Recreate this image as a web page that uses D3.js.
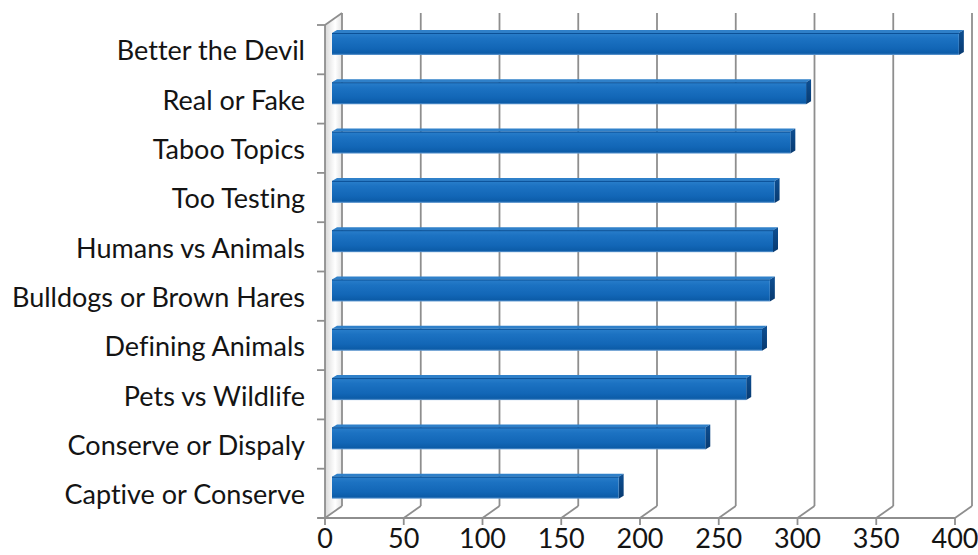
<!DOCTYPE html>
<html><head><meta charset="utf-8">
<script src="https://cdn.jsdelivr.net/npm/d3@7"></script>
<style>html,body{margin:0;padding:0;background:#fff;}svg{display:block;}text{font-variant-ligatures:none;font-feature-settings:"liga" 0,"clig" 0;}</style>
</head><body>
<script>
const categories = ["Better the Devil","Real or Fake","Taboo Topics","Too Testing","Humans vs Animals","Bulldogs or Brown Hares","Defining Animals","Pets vs Wildlife","Conserve or Dispaly","Captive or Conserve"];
const values = [398, 301, 291, 281, 280, 278, 273, 263, 237, 182];
const xTicks = [0, 50, 100, 150, 200, 250, 300, 350, 400];

const W = 978, H = 555;
const svg = d3.select("body").append("svg").attr("width", W).attr("height", H);
const defs = svg.append("defs");

const x = d3.scaleLinear().domain([0, 400]).range([325, 955]);
const y = d3.scaleBand().domain(categories).range([25, 518]).padding(0);
const DX = 17, DY = -12;          // depth offset of back wall
const bDX = 7;                    // bar front offset
const floorY = 518;
const topY = 25;
const gridColor = "#8e8e8e";

// gradients
const bg = defs.append("linearGradient").attr("id","barGrad").attr("x1",0).attr("y1",0).attr("x2",0).attr("y2",1);
[[0,"#2a7fcb"],[0.25,"#1c72c2"],[0.7,"#1266b6"],[0.92,"#0c5ca8"],[1,"#6a9fd4"]].forEach(s=>bg.append("stop").attr("offset",s[0]).attr("stop-color",s[1]));
const sg = defs.append("linearGradient").attr("id","sideGrad").attr("x1",0).attr("y1",0).attr("x2",0).attr("y2",1);
[[0,"#0d4f93"],[1,"#083a70"]].forEach(s=>sg.append("stop").attr("offset",s[0]).attr("stop-color",s[1]));
const wg = defs.append("linearGradient").attr("id","wallGrad").attr("x1",0).attr("y1",0).attr("x2",1).attr("y2",0);
[[0,"#bdbdbd"],[0.35,"#e6e6e6"],[0.6,"#ffffff"],[1,"#d0d0d0"]].forEach(s=>wg.append("stop").attr("offset",s[0]).attr("stop-color",s[1]));

// left wall
svg.append("path")
  .attr("d", `M${x(0)},${topY}L${x(0)+DX},${topY+DY}L${x(0)+DX},${floorY+DY}L${x(0)},${floorY}Z`)
  .attr("fill","url(#wallGrad)").attr("opacity",0.6);

// back gridlines + floor diagonals
const g = svg.append("g").attr("stroke", gridColor).attr("stroke-width", 1.8).attr("fill","none");
xTicks.forEach(t => {
  g.append("line").attr("x1", x(t)+DX).attr("x2", x(t)+DX).attr("y1", topY+DY).attr("y2", floorY+DY);
  g.append("line").attr("x1", x(t)).attr("x2", x(t)+DX).attr("y1", floorY).attr("y2", floorY+DY);
});
g.append("line").attr("x1", x(0)).attr("x2", x(0)+DX).attr("y1", topY).attr("y2", topY+DY);
g.append("line").attr("x1", x(0)).attr("x2", x(0)).attr("y1", topY).attr("y2", floorY);
g.append("line").attr("x1", x(0)-7).attr("x2", x(400)).attr("y1", floorY).attr("y2", floorY);
const yEdges = categories.map(c => y(c)).concat([floorY]);
yEdges.forEach(v => g.append("line").attr("x1", x(0)-8).attr("x2", x(0)).attr("y1", v).attr("y2", v));
xTicks.forEach(t => g.append("line").attr("x1", x(t)).attr("x2", x(t)).attr("y1", floorY).attr("y2", floorY+7));

// bars
const barH = 22, capDX = 5, capDY = -3;
const bars = svg.append("g");
categories.forEach((c, i) => {
  const top = y(c) + 8, bot = top + barH;
  const x0 = x(0) + bDX, xe = x(values[i]) + bDX;
  bars.append("path").attr("d", `M${x0},${top}L${x0+capDX},${top+capDY}L${xe+capDX},${top+capDY}L${xe},${top}Z`)
    .attr("fill","#2f80c9");
  bars.append("path").attr("d", `M${xe},${top}L${xe+capDX},${top+capDY}L${xe+capDX},${bot+capDY}L${xe},${bot}Z`)
    .attr("fill","url(#sideGrad)");
  bars.append("rect").attr("x", x0).attr("y", top).attr("width", xe - x0).attr("height", barH)
    .attr("fill","url(#barGrad)");
  bars.append("line").attr("x1", x0).attr("x2", xe).attr("y1", top+0.5).attr("y2", top+0.5)
    .attr("stroke","#0b5096").attr("stroke-width",1);
});

// category labels
svg.append("g").selectAll("text").data(categories).join("text")
  .attr("x", 305).attr("y", d => y(d) + y.bandwidth()/2 + 4)
  .attr("text-anchor","end").attr("dominant-baseline","middle")
  .attr("font-family","Lato, 'Open Sans', sans-serif").attr("font-size", 27).attr("fill","#141414")
  .text(d => d);

// x tick labels
svg.append("g").selectAll("text").data(xTicks).join("text")
  .attr("x", d => x(d)).attr("y", 541)
  .attr("text-anchor","middle").attr("dominant-baseline","middle")
  .attr("font-family","Lato, 'Open Sans', sans-serif").attr("font-size", 27).attr("fill","#141414")
  .text(d => d);
</script>
</body></html>
